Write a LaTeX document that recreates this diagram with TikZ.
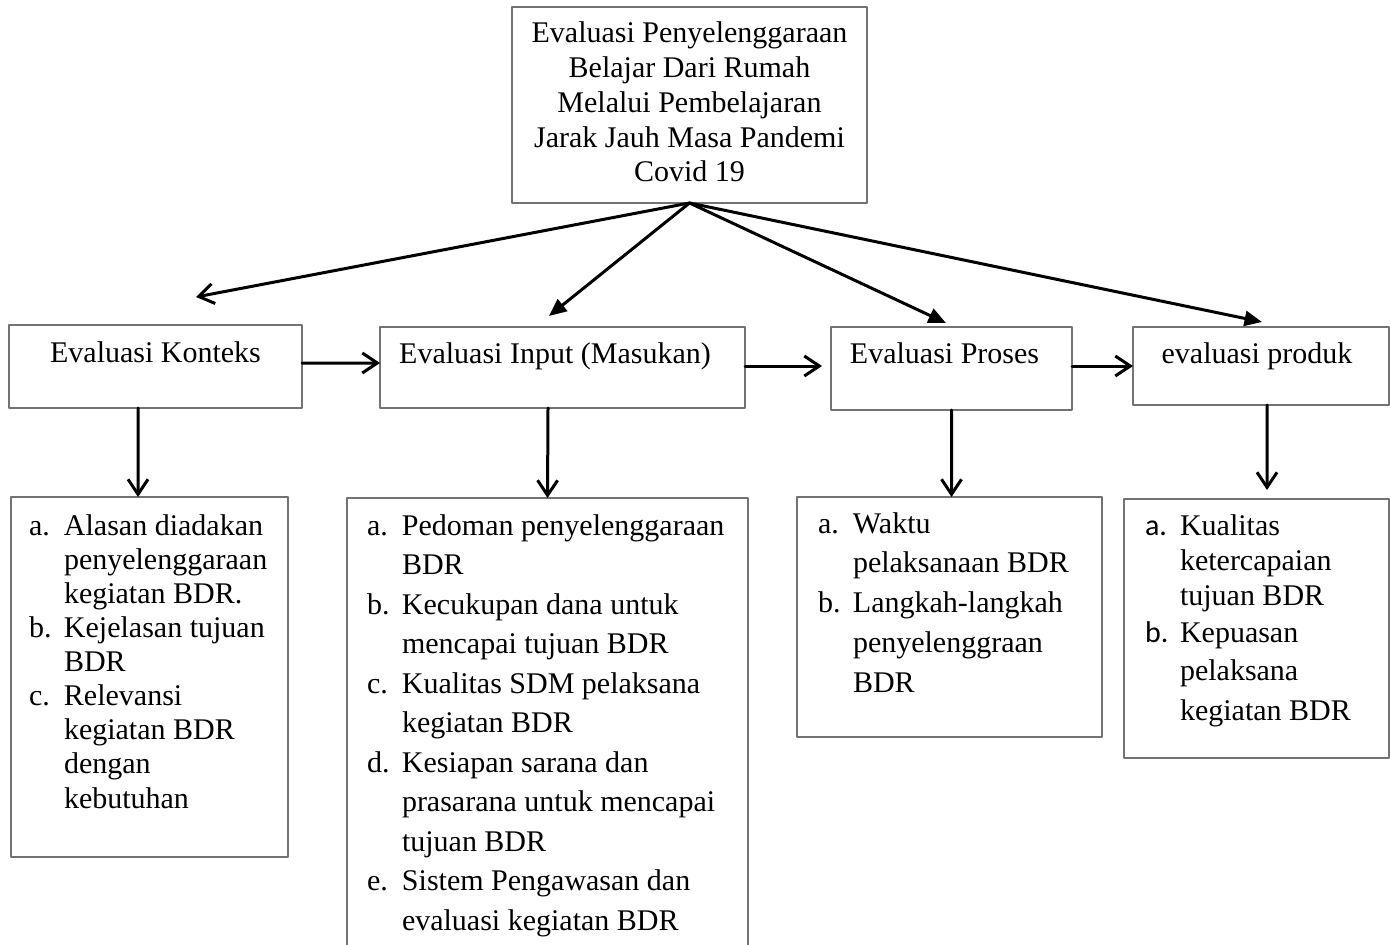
\documentclass[tikz,border=0pt]{standalone}
\usepackage{fontspec}
\setmainfont{Liberation Serif}
\newfontfamily\hurufsans{Carlito}
\usetikzlibrary{arrows.meta}

\begin{document}
\begin{tikzpicture}[line cap=round,line join=round,x=0.4pt,y=-0.4pt,
		kotak/.style={draw=black!55,line width=0.6pt,inner sep=0pt,outer sep=0pt,anchor=north west},
		teks/.style={inner sep=0pt,outer sep=0pt},
		panah/.style={line width=1.2pt,-{Straight Barb[length=6pt,width=8pt]}},
		panahisi/.style={line width=1.2pt,-{Triangle[length=7pt,width=6pt]}}]
		\useasboundingbox (0,0) rectangle (1391,945);
		\clip (0,0) rectangle (1391,945);
		% kotak-kotak
		\node[kotak,minimum width=142pt,minimum height=78.4pt] (judul) at (512,7) {};
		\node[kotak,minimum width=117.2pt,minimum height=33.2pt] (konteks) at (9,325) {};
		\node[kotak,minimum width=146pt,minimum height=32.4pt] (input) at (380,327) {};
		\node[kotak,minimum width=96.4pt,minimum height=33.2pt] (proses) at (831,327) {};
		\node[kotak,minimum width=102.4pt,minimum height=31.2pt] (produk) at (1133,327) {};
		\node[kotak,minimum width=110.8pt,minimum height=144pt] (kontekslist) at (11,497) {};
		\node[kotak,minimum width=160.4pt,minimum height=184.8pt] (inputlist) at (347,498) {};
		\node[kotak,minimum width=122pt,minimum height=96pt] (proseslist) at (797,497) {};
		\node[kotak,minimum width=106pt,minimum height=103.6pt] (produklist) at (1124,499) {};
		% teks judul
		\node[teks,anchor=base,font=\fontsize{12}{13.9}\selectfont] (judulT) at (689.5,43)
			{\begin{tabular}[t]{@{}c@{}}Evaluasi Penyelenggaraan\\Belajar Dari Rumah\\Melalui Pembelajaran\\Jarak Jauh Masa Pandemi\\Covid 19\end{tabular}};
		\node[teks,anchor=base,font=\fontsize{12}{13.8}\selectfont] (kontekT) at (155.5,362) {Evaluasi Konteks};
		\node[teks,anchor=base,font=\fontsize{12}{13.8}\selectfont] (inputT) at (555,363) {Evaluasi Input (Masukan)};
		\node[teks,anchor=base,font=\fontsize{12}{13.8}\selectfont] (prosesT) at (944.5,363) {Evaluasi Proses};
		\node[teks,anchor=base,font=\fontsize{12}{13.8}\selectfont] (produkT) at (1257,363) {evaluasi produk};
		% daftar
		\node[teks,anchor=base west,font=\fontsize{12}{13.65}\selectfont] (kontekslistT) at (29,535)
			{\begin{tabular}[t]{@{}p{14pt}@{}l@{}}
				a. & Alasan diadakan\\ & penyelenggaraan\\ & kegiatan BDR.\\
				b. & Kejelasan tujuan\\ & BDR\\
				c. & Relevansi\\ & kegiatan BDR\\ & dengan\\ & kebutuhan
			\end{tabular}};
		\node[teks,anchor=base west,font=\fontsize{12}{15.8}\selectfont] (inputlistT) at (367,535)
			{\begin{tabular}[t]{@{}p{14pt}@{}l@{}}
				a. & Pedoman penyelenggaraan\\ & BDR\\
				b. & Kecukupan dana untuk\\ & mencapai tujuan BDR\\
				c. & Kualitas SDM pelaksana\\ & kegiatan BDR\\
				d. & Kesiapan sarana dan\\ & prasarana untuk mencapai\\ & tujuan BDR\\
				e. & Sistem Pengawasan dan\\ & evaluasi kegiatan BDR
			\end{tabular}};
		\node[teks,anchor=base west,font=\fontsize{12}{15.9}\selectfont] (proseslistT) at (818,533)
			{\begin{tabular}[t]{@{}p{14pt}@{}l@{}}
				a. & Waktu\\ & pelaksanaan BDR\\
				b. & Langkah-langkah\\ & penyelenggraan\\ & BDR
			\end{tabular}};
		\node[teks,anchor=base west,font=\fontsize{12}{14}\selectfont] (produklistT) at (1145,535)
			{\begin{tabular}[t]{@{}p{14pt}@{}l@{}}
				{\hurufsans a.} & Kualitas\\ & ketercapaian\\ & tujuan BDR\\[0.8pt]
				{\hurufsans b.} & Kepuasan\\[1.2pt] & pelaksana\\[2pt] & kegiatan BDR
			\end{tabular}};
		% panah dari judul
		\coordinate (ujungK) at (196,297);
		\coordinate (ujungI) at (549,316);
		\coordinate (ujungP) at (946,323);
		\coordinate (ujungH) at (1262,322);
		\draw[panah] (judul.south) -- (ujungK);
		\draw[panahisi] (judul.south) -- (ujungI);
		\draw[panahisi] (judul.south) -- (ujungP);
		\draw[panahisi] (judul.south) -- (ujungH);
		% panah mendatar
		\draw[panah] ([yshift=1.4pt]konteks.east) -- ([yshift=1.8pt]input.west);
		\draw[panah] ([yshift=0.6pt]input.east) -- ([xshift=-3.6pt,yshift=1pt]proses.west);
		\draw[panah] ([yshift=1pt]proses.east) -- (produk.west);
		% panah ke bawah
		\draw[panah] ([xshift=-7pt]konteks.south) -- ([xshift=-4.6pt]kontekslist.north);
		\draw[panah] ([xshift=-5.8pt]input.south) -- (inputlist.north);
		\draw[panah] (proses.south) -- ([xshift=0.8pt]proseslist.north);
		\draw[panah] ([xshift=2.4pt]produk.south) -- ([xshift=4.2pt,yshift=3.6pt]produklist.north);
	\end{tikzpicture}
\end{document}
